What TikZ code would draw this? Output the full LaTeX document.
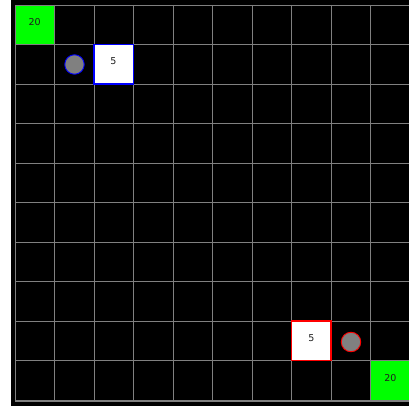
\documentclass[tikz,border=0pt]{standalone}
\usepackage{fontspec}
\setmainfont{DejaVu Sans}
\definecolor{goalgreen}{RGB}{0,255,0}
\definecolor{pblue}{RGB}{0,0,255}
\definecolor{pred}{RGB}{255,0,0}
\definecolor{txt}{RGB}{30,30,30}
\definecolor{gridgray}{RGB}{128,128,128}
\begin{document}
\begin{tikzpicture}[x=1pt,y=-1pt,
  cellbox/.style={minimum width=39.5pt,minimum height=39.5pt,inner sep=0pt,outer sep=0pt,anchor=north west},
  goal/.style={cellbox,fill=goalgreen},
  wallblue/.style={cellbox,fill=white,draw=pblue,line width=1.2pt},
  wallred/.style={cellbox,fill=white,draw=pred,line width=1.2pt},
  agentblue/.style={circle,minimum size=19.5pt,inner sep=0pt,fill=gray,draw=pblue,line width=0.9pt},
  agentred/.style={circle,minimum size=19.5pt,inner sep=0pt,fill=gray,draw=pred,line width=0.9pt},
  lbl/.style={font=\fontsize{9.5}{10}\selectfont,text=txt,inner sep=0pt}
]
\useasboundingbox (0,0) rectangle (409,406);
\fill[white] (0,0) rectangle (409,406);
\fill[black] (11,0) rectangle (409,406);
% goal cells
\node[goal] (g1) at (15,5) {};
\node[goal] (g2) at (370.5,360.5) {};
% grid
\foreach \i in {0,...,10} {
  \draw[gridgray,line width=0.8pt] (15+39.5*\i,5) -- (15+39.5*\i,401.5);
  \draw[gridgray,line width=0.8pt] (15,5+39.5*\i) -- (412,5+39.5*\i);
}
\draw[gridgray,line width=0.8pt] (15,401.5) -- (412,401.5);
% walls
\node[wallblue] (w1) at (94,44.5) {};
\node[wallred] (w2) at (291.5,321) {};
% agents
\node[agentblue] (a1) at (74.5,64.5) {};
\node[agentred] (a2) at (351,342) {};
% labels
\node[lbl] (t1) at (34.7,21.7) {20};
\node[lbl] (t2) at (113.3,60.7) {5};
\node[lbl] (t3) at (311.3,338.3) {5};
\node[lbl] (t4) at (390.3,378.3) {20};
\end{tikzpicture}
\end{document}
